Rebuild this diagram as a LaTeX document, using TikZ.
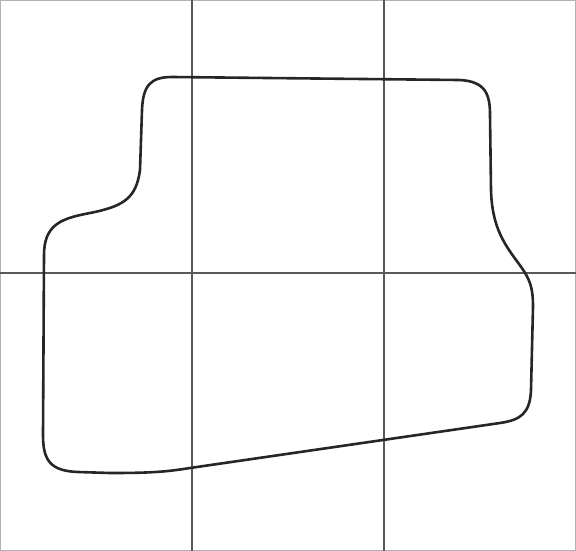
\documentclass[tikz,border=0pt]{standalone}
\usepackage{tikz}

\begin{document}
\begin{tikzpicture}[x=1pt, y=-1pt,
gridline/.style={draw=black!65, line width=1.1pt},
frame/.style={draw=black!30, line width=1.3pt},
outline/.style={draw=black!85, line width=2.6pt, line join=round}]
\def\cw{192}
\def\rh{273}
\useasboundingbox (0,0) rectangle (576,551);

% Grid
\draw[frame] (0.7,0.7) rectangle (575.3,550.3);
\draw[gridline] (\cw,0) -- (\cw,551);
\draw[gridline] (2*\cw,0) -- (2*\cw,551);
\draw[gridline] (0,\rh) -- (576,\rh);

% Outline
\draw[outline] (172,77) -- (459,80)
  .. controls (486,81) and (490,95) .. (490,115)
  -- (491,190)
  .. controls (492,228) and (505,245) .. (519,264)
  .. controls (530,279) and (533,287) .. (533,307)
  -- (531,390)
  .. controls (530,414) and (520,420) .. (500,423)
  -- (190,468)
  .. controls (165,472) and (150,473) .. (110,473)
  -- (78,472)
  .. controls (50,471) and (43,460) .. (43,435)
  -- (44,255)
  .. controls (44,226) and (60,219) .. (85,214)
  .. controls (122,207) and (136,200) .. (140,170)
  -- (142,110)
  .. controls (143,86) and (150,77) .. (172,77)
  -- cycle;
\end{tikzpicture}
\end{document}
